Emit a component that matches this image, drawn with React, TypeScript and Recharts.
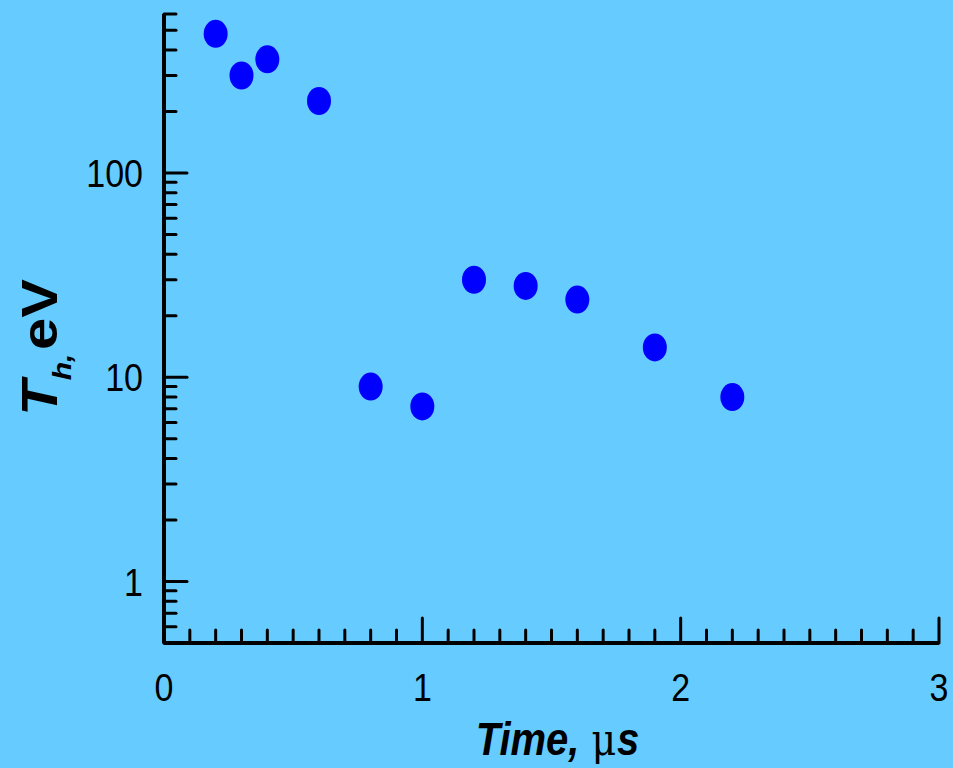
import { ScatterChart, Scatter, XAxis, YAxis, Label } from 'recharts'

// hot electron temperature vs. time
const timeUs = [0.2, 0.3, 0.4, 0.6, 0.8, 1.0, 1.2, 1.4, 1.6, 1.9, 2.2]
const tempEv = [480, 300, 360, 225, 9, 7.2, 30, 28, 24, 14, 8]

const xTicks = [
  0, 0.1, 0.2, 0.3, 0.4, 0.5, 0.6, 0.7, 0.8, 0.9,
  1, 1.1, 1.2, 1.3, 1.4, 1.5, 1.6, 1.7, 1.8, 1.9,
  2, 2.1, 2.2, 2.3, 2.4, 2.5, 2.6, 2.7, 2.8, 2.9, 3,
]
const xLabeled = [0, 1, 2, 3]

const yTicks = [
  0.5, 0.6, 0.7, 0.8, 0.9,
  1, 2, 3, 4, 5, 6, 7, 8, 9,
  10, 20, 30, 40, 50, 60, 70, 80, 90,
  100, 200, 300, 400, 500, 600,
]
const yLabeled = [1, 10, 100]

const points = timeUs.map((t, i) => ({ t, T: tempEv[i] }))

const FONT = '"Liberation Sans", Arial, sans-serif'
const STRETCH = 1.16

function XTick(props: any) {
  const { x, y, payload } = props
  const major = xLabeled.includes(payload.value)
  return (
    <g>
      <line x1={x} x2={x} y1={y} y2={y - (major ? 25 : 13)} stroke="#000" strokeWidth={3} strokeLinecap="round" />
      {major && (
        <text
          transform={`translate(${x},${y + 58}) scale(1,${STRETCH})`}
          textAnchor="middle"
          fontFamily={FONT}
          fontSize={34}
          fill="#000"
        >
          {payload.value}
        </text>
      )}
    </g>
  )
}

function YTick(props: any) {
  const { x, y, payload } = props
  const major = yLabeled.includes(payload.value)
  return (
    <g>
      <line x1={x} x2={x + (major ? 23 : 12)} y1={y} y2={y} stroke="#000" strokeWidth={3} strokeLinecap="round" />
      {major && (
        <text
          transform={`translate(${x - 21},${y + 14}) scale(1,${STRETCH})`}
          textAnchor="end"
          fontFamily={FONT}
          fontSize={34}
          fill="#000"
        >
          {payload.value}
        </text>
      )}
    </g>
  )
}

function Dot(props: any) {
  const { cx, cy } = props
  return <ellipse cx={cx} cy={cy} rx={12} ry={14} fill="#0000FF" />
}

function XTitle(props: any) {
  const { x, y, width } = props.viewBox
  return (
    <text
      transform={`translate(${x + width / 2 + 6},${y + 112}) scale(1,${STRETCH})`}
      textAnchor="middle"
      fontFamily={FONT}
      fontSize={40}
      fill="#000"
    >
      <tspan fontWeight="bold" fontStyle="italic">Time,</tspan>
      <tspan fontFamily='"DejaVu Serif", serif' fontSize={38} dx={12}>μ</tspan>
      <tspan fontWeight="bold" fontStyle="italic" dx={1}>s</tspan>
    </text>
  )
}

function YTitle(props: any) {
  const { x, y, height } = props.viewBox
  return (
    <text
      transform={`translate(${x + 57},${y + height / 2 + 19}) scale(1,${STRETCH}) rotate(-90)`}
      textAnchor="middle"
      fontFamily={FONT}
      fontWeight="bold"
      fill="#000"
    >
      <tspan fontSize={50} fontStyle="italic">T</tspan>
      <tspan fontSize={26} fontStyle="italic" dy={14}>h,</tspan>
      <tspan fontSize={50} dy={-14} dx={3}>eV</tspan>
    </text>
  )
}

export default function App() {
  return (
    <div style={{ position: 'fixed', left: 0, top: 0, width: 953, height: 768, background: '#66CCFF' }}>
      <ScatterChart width={953} height={768} margin={{ top: 14, right: 14, bottom: 0, left: 0 }}>
        <XAxis
          type="number"
          dataKey="t"
          domain={[0, 3]}
          ticks={xTicks}
          interval={0}
          height={125}
          tickSize={0}
          tickMargin={0}
          tickLine={false}
          axisLine={{ stroke: '#000', strokeWidth: 4 }}
          tick={<XTick />}
        >
          <Label content={<XTitle />} />
        </XAxis>
        <YAxis
          type="number"
          dataKey="T"
          scale="log"
          domain={[0.5, 600]}
          allowDataOverflow
          ticks={yTicks}
          interval={0}
          width={164}
          tickSize={0}
          tickMargin={0}
          tickLine={false}
          axisLine={{ stroke: '#000', strokeWidth: 4 }}
          tick={<YTick />}
        >
          <Label content={<YTitle />} />
        </YAxis>
        <Scatter data={points} shape={<Dot />} isAnimationActive={false} />
      </ScatterChart>
    </div>
  )
}
